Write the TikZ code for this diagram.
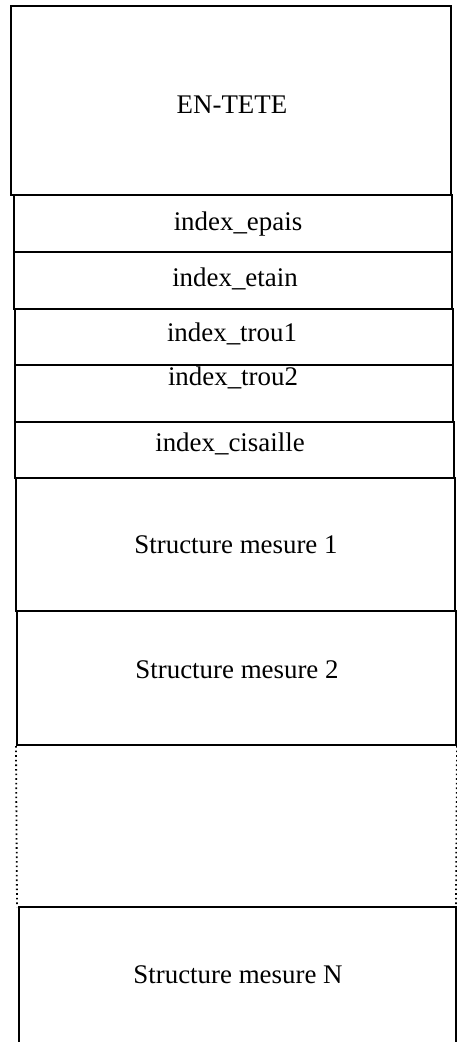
\documentclass[tikz,border=0pt]{standalone}
\usepackage{fontspec}
\setmainfont{Liberation Serif}
\begin{document}
\begin{tikzpicture}[x=1bp, y=-1bp,
  cell/.style={draw, line width=2bp, inner sep=0pt, rectangle},
  lbl/.style={anchor=base, inner sep=0pt, font=\fontsize{27}{31}\selectfont},
  dotline/.style={line width=1.8bp, dash pattern=on 1.6bp off 3bp}]
\useasboundingbox (0,0) rectangle (457,1042);

% header and index records
\node[cell, minimum width=440bp, minimum height=189bp] (tete)  at (231,100.5) {};
\node[cell, minimum width=438bp, minimum height=57bp]  (epais) at (233,223.5) {};
\node[cell, minimum width=438bp, minimum height=57bp]  (etain) at (233,280.5) {};
\node[cell, minimum width=438bp, minimum height=56bp]  (trou1) at (234,337) {};
\node[cell, minimum width=438bp, minimum height=57bp]  (trou2) at (234,393.5) {};
\node[cell, minimum width=439bp, minimum height=56bp]  (cis)   at (234.5,450) {};

% measurement structures
\node[cell, minimum width=439bp, minimum height=133bp] (sm1) at (235.5,544.5) {};
\node[cell, minimum width=439bp, minimum height=134bp] (sm2) at (236.5,678) {};

% labels
\node[lbl] (tete-l)  at (232,113) {EN-TETE};
\node[lbl] (epais-l) at (238,230) {index\_epais};
\node[lbl] (etain-l) at (235,286) {index\_etain};
\node[lbl] (trou1-l) at (232,341) {index\_trou1};
\node[lbl] (trou2-l) at (233,385) {index\_trou2};
\node[lbl] (cis-l)   at (230,451) {index\_cisaille};
\node[lbl] (sm1-l)   at (236,553) {Structure mesure 1};
\node[lbl] (sm2-l)   at (237,678) {Structure mesure 2};

% elided records between 2 and N
\coordinate (gapl) at (17,907);
\coordinate (gapr) at (456,907);
\draw[dotline] (sm2.south west) -- (gapl);
\draw[dotline] (sm2.south east) -- (gapr);

% last structure, continuing below
\coordinate (ntl) at (19,907);
\coordinate (ntr) at (456,907);
\coordinate (nbl) at (19,1042);
\coordinate (nbr) at (456,1042);
\draw[line width=2.4bp] (nbl) -- (ntl) -- (ntr) -- (nbr);
\node[lbl] (smN-l) at (238,983) {Structure mesure N};
\end{tikzpicture}
\end{document}
